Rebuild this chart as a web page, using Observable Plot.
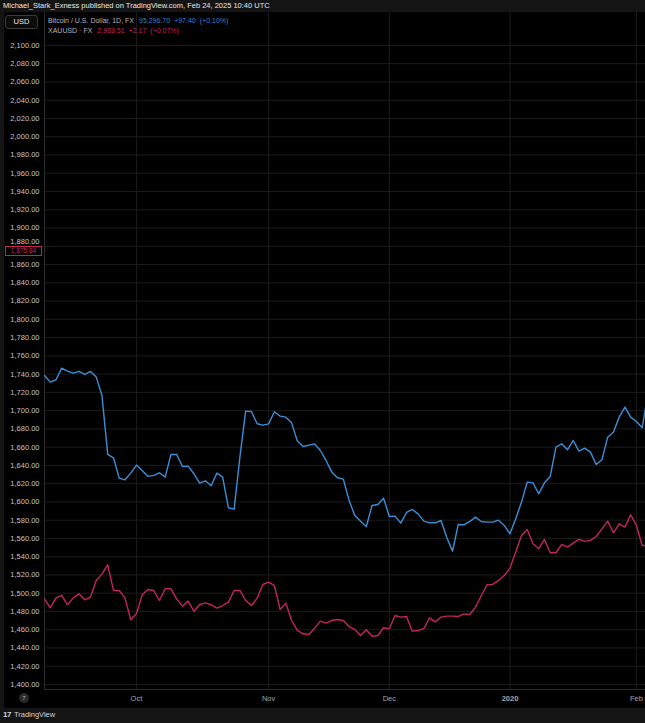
<!DOCTYPE html>
<html>
<head>
<meta charset="utf-8">
<script src="https://cdn.jsdelivr.net/npm/d3@7"></script>
<script src="https://cdn.jsdelivr.net/npm/@observablehq/plot@0.6"></script>
<style>
  html, body { margin: 0; padding: 0; }
  body { width: 645px; height: 723px; overflow: hidden; position: relative; background: #141414;
         font-family: "Liberation Sans", Arial, sans-serif; }
  .abs { position: absolute; white-space: nowrap; }
  #panel { left: 4px; top: 12px; width: 641px; height: 696px; background: #000; border-radius: 3px 0 0 3px; }
  #header { left: 3px; top: 1px; font-size: 7.5px; color: #e8e8e8; line-height: 10px; }
  #usd { left: 5px; top: 15px; width: 31px; height: 12px; border: 1px solid #3a3a3a; border-radius: 3px;
         background: #0c0c0c; color: #e6e6e6; font-size: 7.5px; line-height: 12px; text-align: center; }
  .leg { left: 48px; font-size: 7px; color: #b2b5be; line-height: 9px; }
  .leg span { margin-left: 4px; }
  #footer { left: 3px; top: 710px; font-size: 7.5px; color: #d1d4dc; line-height: 10px; }
  #footer b { font-size: 8px; margin-right: 3px; letter-spacing: -0.5px; }
  #badge { left: 19px; top: 693px; width: 10px; height: 10px; border-radius: 5px; background: #2a2a2a;
           color: #bbb; font-size: 6px; line-height: 10px; text-align: center; }
  #pricebox { left: 5px; width: 35px; height: 8px; border: 1px solid #c2255c; background: #000;
              color: #c2255c; font-size: 6.5px; line-height: 8px; text-align: center; }
</style>
</head>
<body>
<script>
// ---- data ----
const startDate = "2019-09-09";
const endDate = "2020-02-06";
const holidays = ["2019-12-25", "2020-01-01"];

const btcValues = [
  1738.5, 1731.2, 1733.8, 1746.5, 1743.3, 1741.1, 1742.9, 1739.6, 1742.9, 1736.7,
  1716.6, 1652.0, 1648.3, 1626.1, 1624.2, 1631.5, 1640.3, 1634.4, 1627.9, 1629.0,
  1631.9, 1627.2, 1652.0, 1652.0, 1638.8, 1639.2, 1630.8, 1620.6, 1623.1, 1617.7,
  1631.5, 1627.2, 1593.6, 1592.1, 1649.1, 1699.4, 1699.1, 1685.6, 1684.1, 1685.5,
  1698.7, 1693.9, 1692.8, 1686.6, 1666.6, 1660.7, 1662.2, 1663.6, 1656.3, 1645.4,
  1632.6, 1626.4, 1624.9, 1601.6, 1585.1, 1578.9, 1573.1, 1596.1, 1597.2, 1604.1,
  1584.0, 1584.4, 1576.7, 1588.4, 1591.7, 1586.9, 1578.9, 1577.1, 1577.1, 1579.6,
  1561.0, 1546.1, 1575.3, 1574.9, 1578.6, 1583.3, 1578.6, 1577.8, 1577.8, 1580.0,
  1574.2, 1565.1, 1581.5, 1599.8, 1621.7, 1620.9, 1608.9, 1620.9, 1627.9, 1660.0,
  1663.7, 1657.1, 1667.3, 1655.6, 1658.9, 1654.5, 1641.0, 1646.1, 1670.9, 1676.4,
  1692.9, 1703.8, 1692.9, 1688.1, 1681.2, 1718.0
];

const xauValues = [
  1493.8, 1484.0, 1494.9, 1497.5, 1487.3, 1494.9, 1499.3, 1492.7, 1495.7, 1513.9,
  1521.2, 1531.1, 1503.0, 1503.0, 1494.9, 1471.2, 1477.4, 1498.2, 1504.1, 1503.0,
  1492.0, 1504.8, 1504.8, 1493.8, 1485.8, 1491.3, 1480.0, 1487.6, 1489.4, 1487.3,
  1483.6, 1486.5, 1490.2, 1503.0, 1503.0, 1492.0, 1486.5, 1494.6, 1509.5, 1512.1,
  1508.4, 1482.2, 1489.1, 1470.1, 1459.2, 1455.5, 1454.8, 1461.7, 1469.4, 1467.2,
  1470.1, 1471.2, 1470.1, 1463.5, 1460.2, 1453.7, 1459.9, 1452.9, 1453.7, 1462.1,
  1461.0, 1475.6, 1473.8, 1474.5, 1458.4, 1459.2, 1461.0, 1473.0, 1468.6, 1473.8,
  1474.9, 1474.9, 1474.5, 1477.4, 1476.7, 1484.7, 1497.5, 1509.2, 1509.6, 1514.0,
  1519.4, 1527.5, 1545.0, 1563.2, 1569.8, 1554.1, 1548.6, 1558.9, 1544.3, 1544.3,
  1553.4, 1550.5, 1554.8, 1558.9, 1556.7, 1557.8, 1562.1, 1570.5, 1578.9, 1566.2,
  1576.0, 1572.4, 1585.9, 1574.2, 1552.3, 1552.3
];

const tickDates = ["2019-10-01", "2019-11-01", "2019-12-02", "2020-01-02", "2020-02-03"];
const tickLabels = ["Oct", "Nov", "Dec", "2020", "Feb"];
const yTicks = d3.range(1400, 2101, 20);
const priceLabel = 1875.84;

const btcColor = "#3b8fd6";
const xauColor = "#c2255c";

// ---- build ----
const fmtDay = d3.utcFormat("%Y-%m-%d");
const dates = d3.utcDay.range(new Date(startDate), new Date(endDate))
  .filter(d => d.getUTCDay() % 6 !== 0 && !holidays.includes(fmtDay(d)));
const dateKeys = dates.map(fmtDay);
const btc = btcValues.map((v, i) => ({i, date: dates[i], v}));
const xau = xauValues.map((v, i) => ({i, date: dates[i], v}));
const tickIdx = tickDates.map(d => dateKeys.indexOf(d));
const labelOf = new Map(tickIdx.map((k, j) => [k, tickLabels[j]]));

const W = 645, H = 696;
const chart = Plot.plot({
  width: W, height: H,
  marginLeft: 44, marginRight: 0, marginTop: 0, marginBottom: 19,
  style: {background: "transparent", color: "#b2b5be", fontFamily: "'Liberation Sans', Arial, sans-serif", overflow: "visible"},
  x: {type: "linear", domain: [0, 104.58], axis: null},
  y: {domain: [1394.5, 2136.1], axis: null},
  marks: [
    Plot.gridY(yTicks, {stroke: "#1c1c1c", strokeOpacity: 1}),
    Plot.gridX(tickIdx, {stroke: "#1c1c1c", strokeOpacity: 1}),
    Plot.frame({anchor: "left", stroke: "#2b2b2b"}),
    Plot.frame({anchor: "bottom", stroke: "#2b2b2b"}),
    Plot.line(xau, {x: "i", y: "v", stroke: xauColor, strokeWidth: 1.4, clip: true}),
    Plot.line(btc, {x: "i", y: "v", stroke: btcColor, strokeWidth: 1.4, clip: true}),
    Plot.axisY(yTicks, {anchor: "left", tickSize: 0, tickPadding: 5, tickFormat: d3.format(",.2f"),
      fontSize: 7.5, fill: "#c3c6cc", label: null}),
    Plot.axisX(tickIdx, {anchor: "bottom", tickSize: 0, tickPadding: 6,
      tickFormat: k => labelOf.get(k), fontSize: 7.5, fill: "#a3a6ad", label: null})
  ]
});
chart.style.position = "absolute";
chart.style.left = "0px";
chart.style.top = "12px";
const priceText = d3.format(",.2f")(priceLabel);
chart.querySelectorAll("text").forEach(t => {
  if (t.textContent === "2020") t.setAttribute("font-weight", "bold");
  // the tick label just above the price marker sits slightly raised, as in the reference
  if (t.textContent === "1,880.00") t.setAttribute("y", "-2.5");
});

const el = (id, html, cls) => { const d = document.createElement("div"); if (id) d.id = id; d.className = "abs " + (cls || ""); d.innerHTML = html; document.body.appendChild(d); return d; };

el("panel", "");
document.body.appendChild(chart);
el("header", "Michael_Stark_Exness published on TradingView.com, Feb 24, 2025 10:40 UTC");
el("usd", "USD");
const l1 = el(null, `Bitcoin / U.S. Dollar, 1D, FX<span style="color:#2f83d6;margin-left:5px">95,296.70</span><span style="color:#2f83d6">+97.40</span><span style="color:#2f83d6">(+0.10%)</span>`, "leg");
l1.style.top = "16px";
const l2 = el(null, `XAUUSD · FX<span style="color:#c2255c;margin-left:5px">2,939.51</span><span style="color:#c2255c">+2.17</span><span style="color:#c2255c">(+0.07%)</span>`, "leg");
l2.style.top = "26px";
const pb = el("pricebox", priceText);
pb.style.top = (12 + chart.scale("y").apply(priceLabel) - 4) + "px";
el("badge", "7");
el("footer", "<b>17</b>TradingView");
</script>
</body>
</html>
